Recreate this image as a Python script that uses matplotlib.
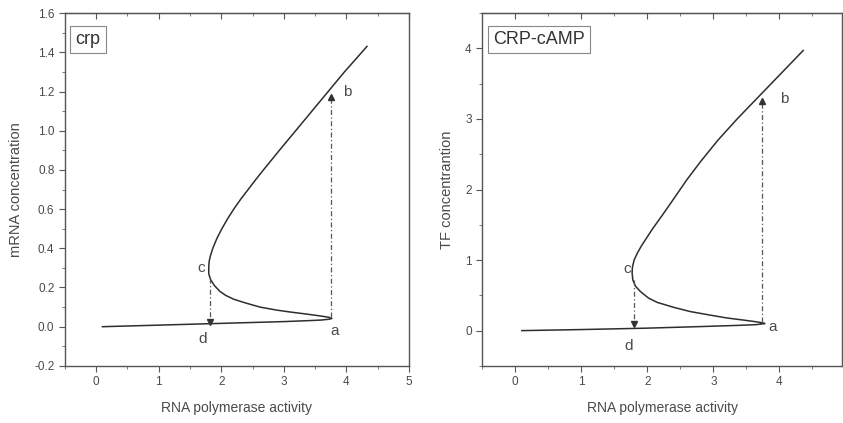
import numpy as np
import matplotlib.pyplot as plt
from matplotlib.ticker import MultipleLocator, FormatStrFormatter

plt.rcParams['font.family'] = ['Liberation Sans', 'DejaVu Sans']

# crp mRNA steady state (read along the S-curve: lower branch -> fold a -> middle -> fold c -> upper)
crp_x = [0.10, 1.00, 2.00, 3.00, 3.40, 3.60, 3.72, 3.77,
         3.72, 3.58, 3.35, 3.10, 2.88, 2.62, 2.40, 2.20, 2.07, 1.98, 1.89, 1.83, 1.80, 1.80,
         1.805, 1.825, 1.865, 1.93, 2.01, 2.10, 2.20, 2.31, 2.43, 2.55, 2.675, 2.93, 3.19,
         3.45, 3.71, 3.97, 4.33]
crp_y = [0.000, 0.008, 0.017, 0.026, 0.031, 0.034, 0.038, 0.042,
         0.048, 0.055, 0.065, 0.075, 0.085, 0.100, 0.120, 0.140, 0.160, 0.180, 0.210, 0.240, 0.270, 0.300,
         0.330, 0.360, 0.400, 0.450, 0.500, 0.550, 0.600, 0.650, 0.700, 0.750, 0.800, 0.900, 1.000,
         1.100, 1.200, 1.300, 1.430]

# CRP-cAMP steady state
tf_x = [0.10, 1.00, 2.00, 2.90, 3.40, 3.65, 3.78,
        3.74, 3.65, 3.45, 3.20, 2.95, 2.65, 2.40, 2.15, 2.02, 1.90, 1.82, 1.78, 1.77,
        1.775, 1.80, 1.85, 1.91, 1.98, 2.07, 2.20, 2.32, 2.46, 2.60, 2.81, 3.07, 3.36,
        3.70, 4.03, 4.36]
tf_y = [0.000, 0.015, 0.035, 0.060, 0.075, 0.085, 0.100,
        0.110, 0.125, 0.150, 0.180, 0.220, 0.270, 0.330, 0.400, 0.460, 0.550, 0.630, 0.720, 0.820,
        0.900, 1.000, 1.100, 1.200, 1.300, 1.430, 1.600, 1.760, 1.950, 2.140, 2.400, 2.700, 3.000,
        3.330, 3.650, 3.970]

# jumps: x position, start y, end y
crp_up = (3.75, 0.05, 1.17)
crp_down = (1.82, 0.25, 0.025)
tf_up = (3.73, 0.12, 3.26)
tf_down = (1.80, 0.72, 0.09)

# point labels a, b, c, d
crp_pts = {'a': (3.82, -0.02), 'b': (4.02, 1.20), 'c': (1.68, 0.30), 'd': (1.70, -0.065)}
tf_pts = {'a': (3.90, 0.05), 'b': (4.07, 3.28), 'c': (1.69, 0.87), 'd': (1.71, -0.22)}

fig = plt.figure(figsize=(8.43, 4.23), dpi=100)
ax1 = fig.add_axes([0.077, 0.135, 0.408, 0.834])
ax2 = fig.add_axes([0.572, 0.135, 0.427, 0.834])

txt = '#4a4a4a'
line = '#2e2e2e'

panels = [
    (ax1, crp_x, crp_y, crp_up, crp_down, crp_pts, 'crp', 'mRNA concentration',
     (-0.5, 5), (-0.2, 1.6), 0.2, 0.1, '%.1f'),
    (ax2, tf_x, tf_y, tf_up, tf_down, tf_pts, 'CRP-cAMP', 'TF concentrantion',
     (-0.5, 4.95), (-0.5, 4.5), 1, 0.5, '%d'),
]

for ax, xs, ys, up, down, pts, name, ylab, xl, yl, ymaj, ymin, fmt in panels:
    ax.plot(xs, ys, color=line, lw=1.1, solid_joinstyle='round')
    # jump arrows
    ax.plot([up[0], up[0]], [up[1], up[2]], color='#555555', lw=0.9, ls=(0, (4, 2, 1, 2)))
    ax.plot(up[0], up[2], marker='^', color='#333333', ms=4.5, ls='none')
    ax.plot([down[0], down[0]], [down[1], down[2]], color='#555555', lw=0.9, ls=(0, (4, 2, 1, 2)))
    ax.plot(down[0], down[2], marker='v', color='#333333', ms=4.5, ls='none')
    for k, (px, py) in pts.items():
        ax.text(px, py, k, fontsize=11, color=txt, ha='center', va='center')

    ax.text(0.03, 0.925, name, transform=ax.transAxes, fontsize=13, color='#333333',
            ha='left', va='center',
            bbox=dict(boxstyle='square,pad=0.3', fc='white', ec='#888888', lw=0.8))

    ax.set_xlim(*xl)
    ax.set_ylim(*yl)
    ax.xaxis.set_major_locator(MultipleLocator(1))
    ax.xaxis.set_minor_locator(MultipleLocator(0.5))
    ax.yaxis.set_major_locator(MultipleLocator(ymaj))
    ax.yaxis.set_minor_locator(MultipleLocator(ymin))
    ax.yaxis.set_major_formatter(FormatStrFormatter(fmt))
    ax.tick_params(which='major', direction='out', length=4, width=0.8, colors='#555555',
                   labelcolor=txt, labelsize=8.5)
    ax.tick_params(which='minor', direction='out', length=2.5, width=0.7, colors='#777777')
    for s in ax.spines.values():
        s.set_color('#555555')
        s.set_linewidth(1.0)

    top = ax.secondary_xaxis('top')
    top.xaxis.set_major_locator(MultipleLocator(1))
    top.xaxis.set_minor_locator(MultipleLocator(0.5))
    top.tick_params(which='major', direction='in', length=4, width=0.8, colors='#555555',
                    labeltop=False)
    top.tick_params(which='minor', direction='in', length=2.5, width=0.7, colors='#777777')

    ax.set_xlabel('RNA polymerase activity', fontsize=10, color=txt, labelpad=9)
    ax.set_ylabel(ylab, fontsize=10.5, color=txt, labelpad=8)

fig.savefig('out.png', dpi=100)
